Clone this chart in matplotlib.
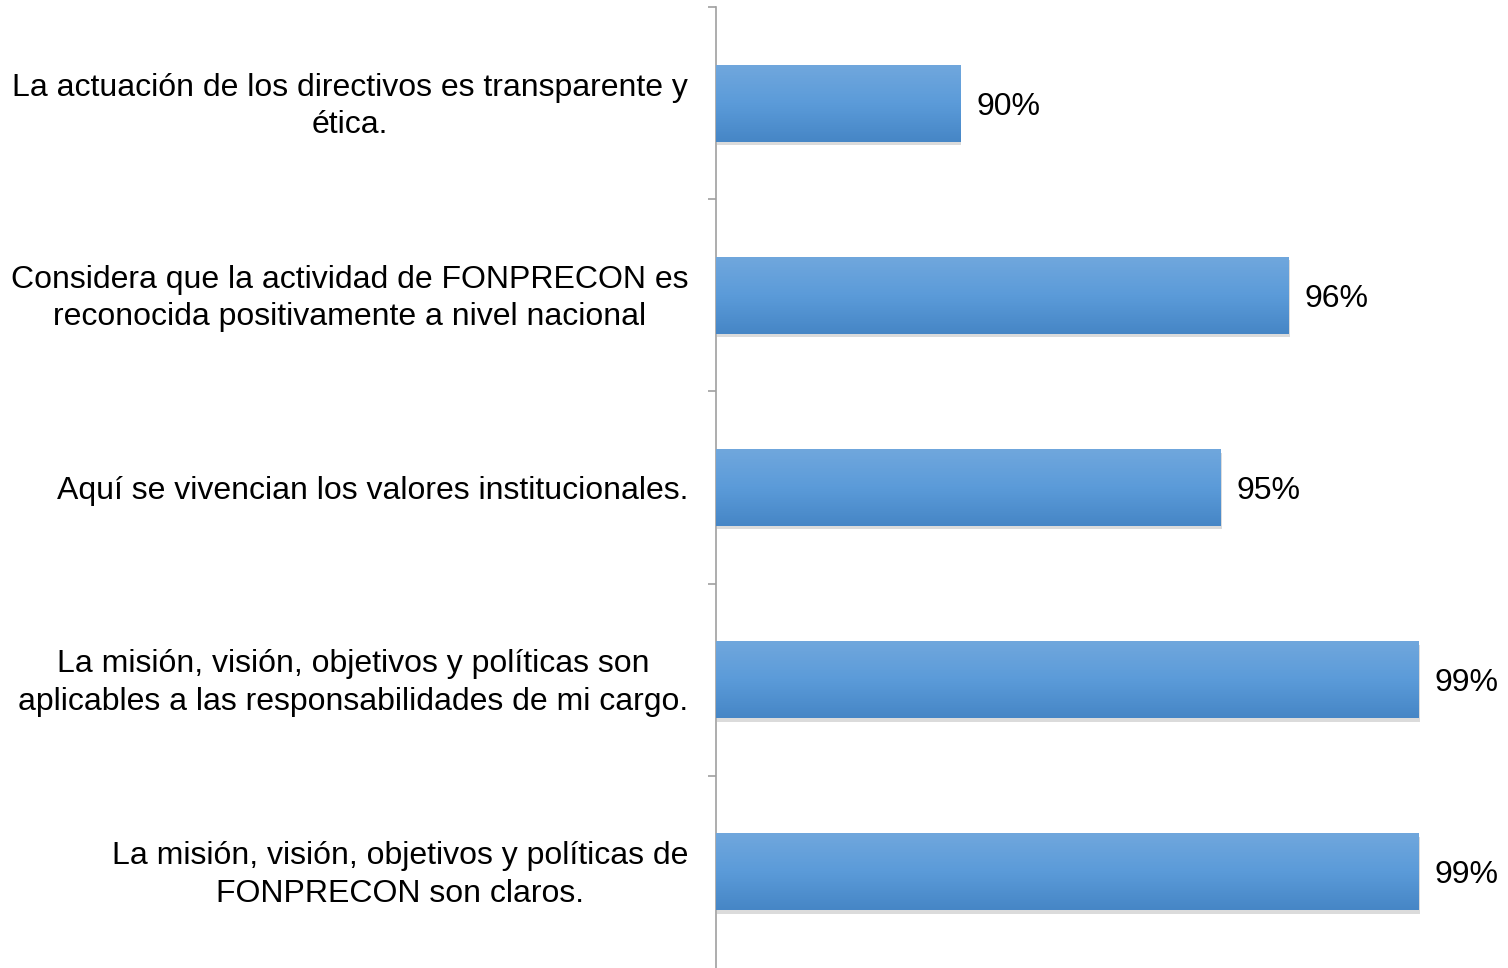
import numpy as np
import matplotlib.pyplot as plt
import matplotlib.patheffects as pe
import matplotlib.transforms as mtransforms
from matplotlib.colors import LinearSegmentedColormap

plt.rcParams['font.family'] = ['Liberation Sans', 'DejaVu Sans']

categories = [
    "La actuación de los directivos es transparente y\nética.",
    "Considera que la actividad de FONPRECON es\nreconocida positivamente a nivel nacional",
    "Aquí se vivencian los valores institucionales.",
    "La misión, visión, objetivos y políticas son\naplicables a las responsabilidades de mi cargo.",
    "La misión, visión, objetivos y políticas de\nFONPRECON son claros.",
]
values = [90.2, 96.25, 95.0, 98.65, 98.65]

fig = plt.figure(figsize=(15.08, 9.68), dpi=100)
ax = fig.add_axes([716 / 1508, 0.0, 1 - 716 / 1508, 1 - 7 / 968])

y = np.arange(len(categories))
bar_h = 0.4
xmin, xmax = 85.7, 100.3

bars = ax.barh(y, [v - xmin for v in values], left=xmin, height=bar_h,
               color='#5b9bd9', edgecolor='none', zorder=2,
               path_effects=[pe.SimplePatchShadow(offset=(1, -2.5), shadow_rgbFace='#888888', alpha=0.3),
                             pe.Normal()])

# vertical gradient on each bar
cmap = LinearSegmentedColormap.from_list('grad', ['#70a7dd', '#5b9bd9', '#4686c6'])
grad = np.linspace(0, 1, 100).reshape(-1, 1)
for b in bars:
    x0, y0 = b.get_x(), b.get_y()
    im = ax.imshow(grad, cmap=cmap, aspect='auto', zorder=3,
                   extent=(x0, x0 + b.get_width(), y0 + b.get_height(), y0),
                   interpolation='bicubic')
    im.set_clip_path(b)

for yi, v in zip(y, values):
    ax.text(v + 0.3, yi, "%d%%" % round(v), va='center_baseline', ha='left',
            fontsize=23, color='black', clip_on=False)

ax.set_xlim(xmin, xmax)
ax.set_ylim(len(categories) - 0.5, -0.5)

ax.set_yticks(y)
ax.set_yticklabels(categories, fontsize=23, multialignment='center', linespacing=1.32)
ax.set_yticks(np.arange(-0.5, len(categories) - 0.5, 1), minor=True)
ax.tick_params(axis='y', which='major', length=0, pad=20)
ax.tick_params(axis='y', which='minor', length=6, width=1.2, color='#a0a0a0')
ax.set_xticks([])

# two-line labels sit a little higher in the original
shift = mtransforms.ScaledTranslation(0, 4 / 100, fig.dpi_scale_trans)
for lab in ax.get_yticklabels():
    if '\n' in lab.get_text():
        lab.set_transform(lab.get_transform() + shift)

for s in ['top', 'right', 'bottom']:
    ax.spines[s].set_visible(False)
ax.spines['left'].set_color('#a0a0a0')
ax.spines['left'].set_linewidth(1.2)

fig.savefig("out.png", dpi=100)
